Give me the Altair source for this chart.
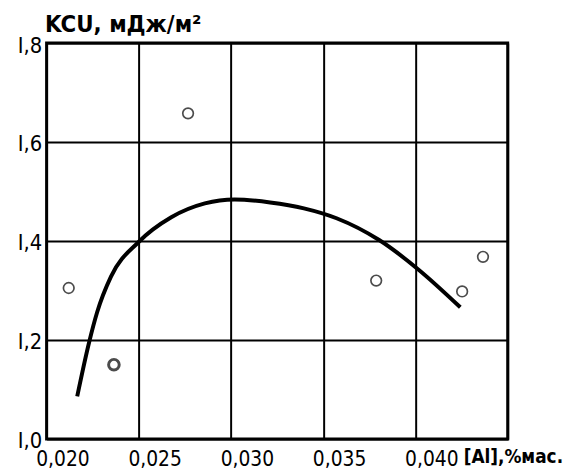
import altair as alt
import pandas as pd

# measured points (open circles)
pt_x = [0.0212, 0.02365, 0.02767, 0.03787, 0.04253, 0.04366]
pt_y = [1.305, 1.150, 1.658, 1.320, 1.298, 1.368]
pt_bold = [False, True, False, False, False, False]

# fitted curve
curve_x = [0.02166, 0.02231, 0.02274, 0.02349, 0.02499, 0.02676, 0.02858,
           0.03019, 0.03212, 0.03395, 0.03572, 0.03803, 0.04017, 0.04243]
curve_y = [1.086, 1.196, 1.256, 1.328, 1.398, 1.448, 1.476,
           1.484, 1.478, 1.466, 1.446, 1.402, 1.342, 1.266]

x_ticks = [0.020, 0.025, 0.030, 0.035, 0.040, 0.045]
y_ticks = [1.0, 1.2, 1.4, 1.6, 1.8]

pts = pd.DataFrame({"x": pt_x, "y": pt_y, "bold": pt_bold})
crv = pd.DataFrame({"x": curve_x, "y": curve_y})

FONT = "DejaVu Sans Condensed, DejaVu Sans"

xs = alt.X("x:Q", scale=alt.Scale(domain=[0.020, 0.045], nice=False, zero=False),
           axis=alt.Axis(values=x_ticks, grid=True, gridColor="black", gridWidth=2,
                         gridOpacity=1, domain=False, ticks=False,
                         labelExpr="datum.value > 0.0425 ? '' : replace(format(datum.value, '.3f'), '.', ',')",
                         labelFont=FONT, labelFontSize=21, labelColor="black",
                         labelOffset=16, labelPadding=10, labelFlush=False,
                         title="[Al],%мас.", titleFont=FONT, titleFontSize=19,
                         titleFontWeight="bold", titleColor="black",
                         titleAngle=0, titleAlign="left", titleBaseline="alphabetic",
                         titleX=421, titleY=24))
ys = alt.Y("y:Q", scale=alt.Scale(domain=[1.0, 1.8], nice=False, zero=False),
           axis=alt.Axis(values=y_ticks, grid=True, gridColor="black", gridWidth=2,
                         gridOpacity=1, domain=False, ticks=False,
                         labelExpr="replace(replace(format(datum.value, '.1f'), '1', 'I'), '.', ',')",
                         labelFont=FONT, labelFontSize=22, labelColor="black",
                         labelPadding=5, labelBaseline="middle", labelFlush=False,
                         labelOffset=2,
                         title="KCU, мДж/м²", titleFont=FONT, titleFontSize=24,
                         titleFontWeight="bold", titleColor="black",
                         titleAngle=0, titleAlign="left", titleBaseline="alphabetic",
                         titleX=-2, titleY=-12))

line = alt.Chart(crv).mark_line(color="black", strokeWidth=4, interpolate="monotone").encode(
    x=xs, y=ys)
circles = alt.Chart(pts).mark_point(shape="circle", filled=False, color="black", size=115).encode(
    x="x:Q", y="y:Q",
    strokeWidth=alt.condition("datum.bold", alt.value(3), alt.value(1.7)))

chart = alt.layer(line, circles).properties(
    width=466, height=400,
    autosize=alt.AutoSizeParams(type="none"),
    padding={"left": 39, "top": 33, "right": 67, "bottom": 34},
    background="white",
).configure_view(stroke="black", strokeWidth=3)

chart.save("out.html", embed_options={"renderer": "svg", "actions": False})
